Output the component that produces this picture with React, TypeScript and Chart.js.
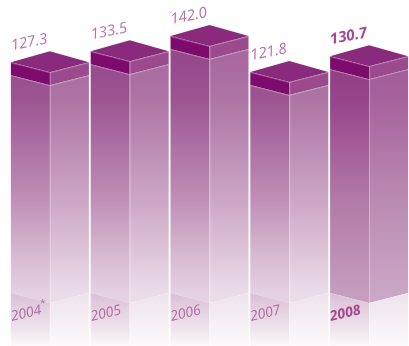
import { useEffect, useRef } from "react";
import { Chart, registerables } from "chart.js";

Chart.register(...registerables);

// Annual figures
const years = ["2004", "2005", "2006", "2007", "2008"];
const yearMarks = ["*", "", "", "", ""];
const values = [127.3, 133.5, 142.0, 121.8, 130.7];
const highlighted = [false, false, false, false, true];

const W = 409;
const H = 346;

type Stop = [number, string];

function grad(ctx: CanvasRenderingContext2D, y0: number, y1: number, stops: Stop[]) {
  const g = ctx.createLinearGradient(0, y0, 0, y1);
  stops.forEach(([o, c]) => g.addColorStop(o, c));
  return g;
}

// rotated text, anchored at the baseline start
function slantedText(ctx: CanvasRenderingContext2D, text: string, x: number, y: number, deg: number) {
  ctx.save();
  ctx.translate(x, y);
  ctx.rotate((deg * Math.PI) / 180);
  ctx.fillText(text, 0, 0);
  ctx.restore();
}

// vertical shading of the column faces (absolute canvas y from 40 to 293)
const bodyLeft: Stop[] = [[0, "#924488"], [0.237, "#9c5592"], [0.632, "#c08fb7"], [0.83, "#d5b6ce"], [1, "#e4d1e2"]];
const bodyRight: Stop[] = [[0, "#a6639c"], [0.237, "#ae74a5"], [0.632, "#cca6c5"], [0.83, "#ddc3d8"], [1, "#ebdcea"]];
const hiLeft: Stop[] = [[0, "#8f3a83"], [0.237, "#97448a"], [0.632, "#b27aa8"], [1, "#c59dbf"]];
const hiRight: Stop[] = [[0, "#a05896"], [0.237, "#a6629c"], [0.632, "#ba8bb3"], [1, "#cba6c6"]];

const VALUE_ANGLE = -11;
const YEAR_ANGLE = -13;

const columns3d = {
  id: "columns3d",
  afterDatasetsDraw(chart: any) {
    const ctx: CanvasRenderingContext2D = chart.ctx;
    const meta = chart.getDatasetMeta(0);
    const lid = 13; // thickness of the dark cap
    const dz = 10; // half depth of the isometric top
    meta.data.forEach((el: any, i: number) => {
      const { x, y, base, width } = el.getProps(["x", "y", "base", "width"], true);
      const L = x - width / 2;
      const R = x + width / 2;
      const C = x;
      const floor = base + 4;
      const hi = highlighted[i];

      ctx.save();
      // body faces
      ctx.fillStyle = grad(ctx, 40, 293, hi ? hiLeft : bodyLeft);
      ctx.beginPath();
      ctx.moveTo(L, y + lid);
      ctx.lineTo(C, y + lid + dz);
      ctx.lineTo(C, floor + dz);
      ctx.lineTo(L, floor);
      ctx.closePath();
      ctx.fill();

      ctx.fillStyle = grad(ctx, 40, 293, hi ? hiRight : bodyRight);
      ctx.beginPath();
      ctx.moveTo(C, y + lid + dz);
      ctx.lineTo(R, y + lid);
      ctx.lineTo(R, floor);
      ctx.lineTo(C, floor + dz);
      ctx.closePath();
      ctx.fill();

      // reflection below the floor line
      ctx.fillStyle = grad(ctx, floor, H, [[0, "#dac0d6"], [0.6, "#ecdfea"], [1, "#fbf8fa"]]);
      ctx.beginPath();
      ctx.moveTo(L, floor);
      ctx.lineTo(C, floor + dz);
      ctx.lineTo(C, H);
      ctx.lineTo(L, H);
      ctx.closePath();
      ctx.fill();

      ctx.fillStyle = grad(ctx, floor, H, [[0, "#eee2ec"], [1, "#fcfafc"]]);
      ctx.beginPath();
      ctx.moveTo(C, floor + dz);
      ctx.lineTo(R, floor);
      ctx.lineTo(R, H);
      ctx.lineTo(C, H);
      ctx.closePath();
      ctx.fill();

      // cap: left band, right band, top
      ctx.fillStyle = "#7c0b6c";
      ctx.beginPath();
      ctx.moveTo(L, y);
      ctx.lineTo(C, y + dz);
      ctx.lineTo(C, y + dz + lid);
      ctx.lineTo(L, y + lid);
      ctx.closePath();
      ctx.fill();

      ctx.fillStyle = "#9a4a8d";
      ctx.beginPath();
      ctx.moveTo(C, y + dz);
      ctx.lineTo(R, y);
      ctx.lineTo(R, y + lid);
      ctx.lineTo(C, y + dz + lid);
      ctx.closePath();
      ctx.fill();

      ctx.fillStyle = "#8a2a7c";
      ctx.beginPath();
      ctx.moveTo(L, y);
      ctx.lineTo(C, y - dz - 1);
      ctx.lineTo(R, y);
      ctx.lineTo(C, y + dz);
      ctx.closePath();
      ctx.fill();

      // soft edge highlights
      ctx.strokeStyle = "rgba(255,255,255,0.28)";
      ctx.lineWidth = 1;
      ctx.beginPath();
      ctx.moveTo(L, y + 0.5);
      ctx.lineTo(C, y + dz + 0.5);
      ctx.lineTo(R, y + 0.5);
      ctx.moveTo(L, y + lid + 0.5);
      ctx.lineTo(C, y + lid + dz + 0.5);
      ctx.lineTo(R, y + lid + 0.5);
      ctx.moveTo(C + 0.5, y + dz);
      ctx.lineTo(C + 0.5, H);
      ctx.stroke();

      ctx.textAlign = "left";
      ctx.textBaseline = "alphabetic";

      // value label
      ctx.fillStyle = hi ? "#a4499a" : "#b870a9";
      ctx.font = `italic ${hi ? "bold " : ""}15px "Open Sans", sans-serif`;
      slantedText(ctx, values[i].toFixed(1), L + 1, y - 12, VALUE_ANGLE);

      // year label
      ctx.save();
      ctx.beginPath();
      ctx.rect(L, floor, width, H - floor);
      ctx.clip();
      ctx.fillStyle = hi ? "#a4488f" : "#b26ca3";
      ctx.font = `italic ${hi ? "bold " : ""}14px "Open Sans", sans-serif`;
      const yx = L + 1;
      const yy = floor + 28;
      slantedText(ctx, years[i], yx, yy, YEAR_ANGLE);
      if (yearMarks[i]) {
        const w = ctx.measureText(years[i]).width + 0.5;
        const a = (YEAR_ANGLE * Math.PI) / 180;
        ctx.font = `italic 10px "Open Sans", sans-serif`;
        const ox = w * Math.cos(a) + 7 * Math.sin(a);
        const oy = w * Math.sin(a) - 7 * Math.cos(a);
        slantedText(ctx, yearMarks[i], yx + ox, yy + oy, YEAR_ANGLE);
      }
      ctx.restore();

      ctx.restore();
    });
  },
};

export default function App() {
  const ref = useRef<HTMLCanvasElement>(null);

  useEffect(() => {
    if (!ref.current) return;
    const chart = new Chart(ref.current, {
      type: "bar",
      data: {
        labels: years,
        datasets: [
          {
            data: values,
            backgroundColor: "rgba(0,0,0,0)",
            borderWidth: 0,
            barPercentage: 78 / 79.8,
            categoryPercentage: 1,
          },
        ],
      },
      options: {
        responsive: false,
        animation: false,
        devicePixelRatio: 1,
        layout: { padding: { left: 10, right: 0, top: 4, bottom: 57 } },
        scales: {
          x: { display: false },
          y: { display: false, min: 0, max: 160 },
        },
        plugins: {
          legend: { display: false },
          tooltip: { enabled: false },
        },
      },
      plugins: [columns3d],
    });
    return () => chart.destroy();
  }, []);

  return (
    <div style={{ position: "fixed", left: 0, top: 0, width: W, height: H, background: "#fff" }}>
      <canvas ref={ref} width={W} height={H} style={{ display: "block" }} />
    </div>
  );
}
